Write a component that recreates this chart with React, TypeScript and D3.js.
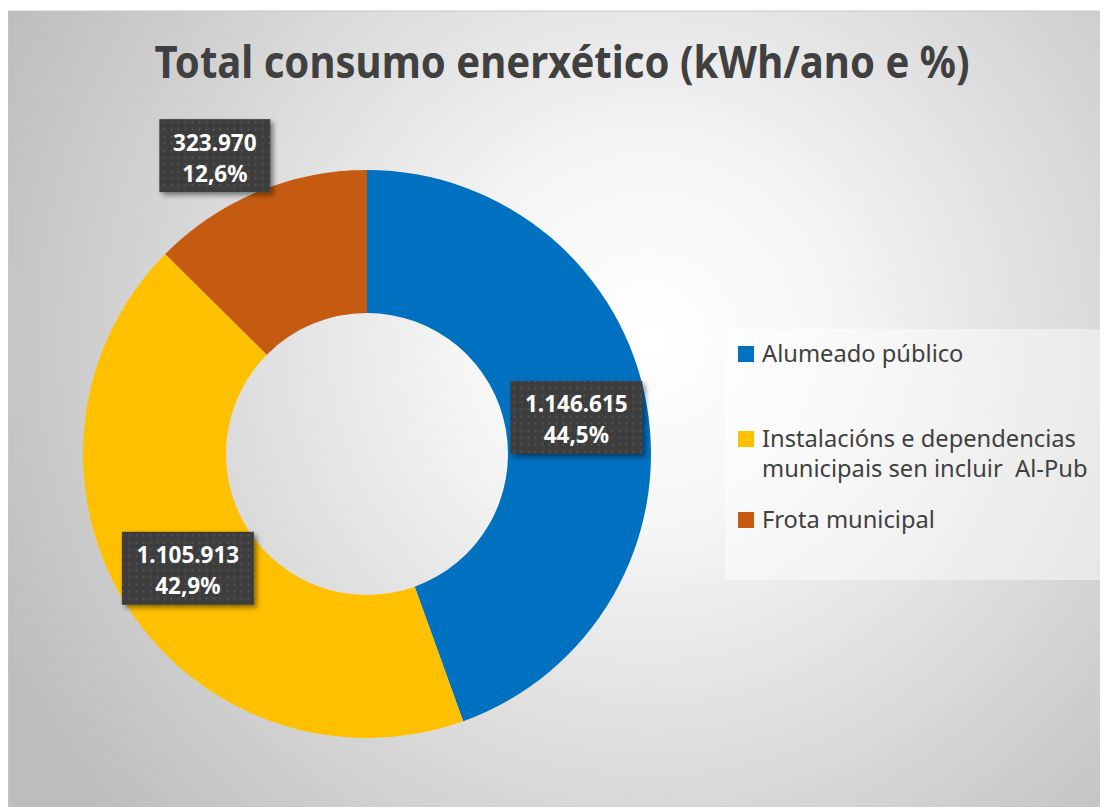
import React from 'react';
import * as d3 from 'd3';

const categories = [
  'Alumeado público',
  'Instalacións e dependencias municipais sen incluir  Al-Pub',
  'Frota municipal',
];
const values = [1146615, 1105913, 323970];
const valueLabels = ['1.146.615', '1.105.913', '323.970'];
const percentLabels = ['44,5%', '42,9%', '12,6%'];
const legendLines = [
  ['Alumeado público'],
  ['Instalacións e dependencias', 'municipais sen incluir  Al-Pub'],
  ['Frota municipal'],
];
const colors = ['#0070C0', '#FFC000', '#C55A11'];

const W = 1100;
const H = 799;
const cx = 367;
const cy = 454;
const outerR = 284;
const innerR = 141;
// label radius per slice (the small slice gets pushed outside)
const labelR = [212.5, 212.5, 333];
const labelNudge = [[0, 0], [0, 0], [-24, 9]];
const legendBaselines = [362, 447, 528];

const App: React.FC = () => {
  const pie = d3.pie<number>().sort(null).value(d => d);
  const arcs = pie(values);
  const arcGen = d3.arc<d3.PieArcDatum<number>>().innerRadius(innerR).outerRadius(outerR);

  const font = "'Noto Sans', 'Open Sans', sans-serif";

  return (
    <svg width={W} height={H} style={{ display: 'block' }}>
      <defs>
        <radialGradient id="bg" gradientUnits="userSpaceOnUse" cx={650} cy={340} r={720}>
          <stop offset="0" stopColor="#ffffff" />
          <stop offset="0.25" stopColor="#f6f6f6" />
          <stop offset="1" stopColor="#bdbdbd" />
        </radialGradient>
        <pattern id="dots" width="7" height="7" patternUnits="userSpaceOnUse">
          <rect width="7" height="7" fill="#3d3d3d" />
          <circle cx="3.5" cy="3.5" r="1" fill="#565656" />
        </pattern>
        <filter id="shadow" x="-20%" y="-20%" width="150%" height="150%">
          <feDropShadow dx="3" dy="3" stdDeviation="2.5" floodColor="#000" floodOpacity="0.45" />
        </filter>
      </defs>
      <g transform="translate(-8,-8)">
        <rect x={8} y={11} width={1100} height={796} fill="url(#bg)" stroke="#c8c8c8" strokeWidth={1} />

        <text
          x={562}
          y={78}
          textAnchor="middle"
          fontFamily={font}
          fontWeight="bold"
          fontSize={44}
          fill="#404040"
          textLength={815}
          lengthAdjust="spacingAndGlyphs"
        >
          Total consumo enerxético (kWh/ano e %)
        </text>

        <g transform={`translate(${cx},${cy})`}>
          {arcs.map((a, i) => (
            <path key={categories[i]} d={arcGen(a) || ''} fill={colors[i]} />
          ))}
        </g>

        {arcs.map((a, i) => {
          const mid = (a.startAngle + a.endAngle) / 2;
          const lx = cx + labelR[i] * Math.sin(mid) + labelNudge[i][0];
          const ly = cy - labelR[i] * Math.cos(mid) + labelNudge[i][1];
          const bw = 10.5 * valueLabels[i].length + 37.5;
          const bh = 73;
          return (
            <g key={'lab' + i}>
              <rect
                x={lx - bw / 2}
                y={ly - bh / 2}
                width={bw}
                height={bh}
                fill="url(#dots)"
                filter="url(#shadow)"
              />
              <text x={lx} y={ly - 5} textAnchor="middle" fontFamily={font} fontWeight="bold" fontSize={22.5} fill="#ffffff">
                {valueLabels[i]}
              </text>
              <text x={lx} y={ly + 26} textAnchor="middle" fontFamily={font} fontWeight="bold" fontSize={22.5} fill="#ffffff">
                {percentLabels[i]}
              </text>
            </g>
          );
        })}

        <rect x={725} y={329} width={378} height={251} fill="#ffffff" fillOpacity={0.45} />
        {legendLines.map((lines, i) => (
          <g key={'leg' + i}>
            <rect x={738} y={legendBaselines[i] - 16} width={16} height={16} fill={colors[i]} />
            {lines.map((t, j) => (
              <text
                key={j}
                x={762}
                y={legendBaselines[i] + j * 30}
                fontFamily={font}
                fontSize={23.7}
                fill="#404040"
                style={{ whiteSpace: 'pre' }}
              >
                {t}
              </text>
            ))}
          </g>
        ))}
      </g>
    </svg>
  );
};

export default App;
